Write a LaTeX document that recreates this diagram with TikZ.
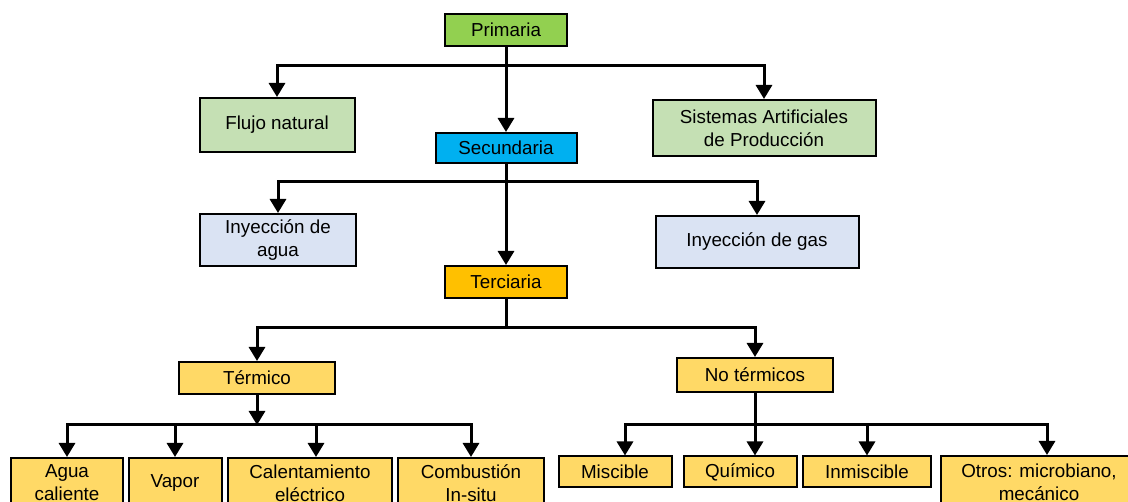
\documentclass[tikz,border=0pt]{standalone}
\usepackage{fontspec}
\setmainfont{Liberation Sans}
\usetikzlibrary{arrows.meta}
\definecolor{verdeA}{HTML}{92D050}
\definecolor{verdeB}{HTML}{C5E0B4}
\definecolor{azulA}{HTML}{00B0F0}
\definecolor{azulB}{HTML}{DAE3F3}
\definecolor{naranja}{HTML}{FFC000}
\definecolor{amarillo}{HTML}{FFD966}
\begin{document}
\begin{tikzpicture}[x=1pt, y=-1pt]
	\tikzset{caja/.style={draw=black, line width=2pt, inner sep=0pt, align=center, font=\fontsize{18.8}{23}\selectfont}, flecha/.style={line width=3pt, -{Triangle[width=16pt, length=14pt]}}, linea/.style={line width=3pt}};

	\useasboundingbox (0,0) rectangle (1128,502);
	\fill[white] (0,0) rectangle (1128,502);
	\clip (0,0) rectangle (1128,502);

	\node[caja, fill=verdeA,   minimum width=122pt, minimum height=32pt] (prim)   at ( 506,   30) {Primaria};
	\node[caja, fill=verdeB,   minimum width=155pt, minimum height=54pt] (flujo)  at ( 277,  125) {Flujo natural};
	\node[caja, fill=verdeB,   minimum width=223pt, minimum height=56pt] (sist)   at ( 764,  128) {Sistemas Artificiales\\de Producción};
	\node[caja, fill=azulA,    minimum width=141pt, minimum height=30pt] (sec)    at ( 506,  148) {Secundaria};
	\node[caja, fill=azulB,    minimum width=156pt, minimum height=52pt] (agua)   at ( 278,  240) {Inyección de\\agua};
	\node[caja, fill=azulB,    minimum width=203pt, minimum height=52pt] (gas)    at ( 757,  242) {Inyección de gas};
	\node[caja, fill=naranja,  minimum width=122pt, minimum height=32pt] (terc)   at ( 506,  282) {Terciaria};
	\node[caja, fill=amarillo, minimum width=156pt, minimum height=32pt] (term)   at ( 257,  378) {Térmico};
	\node[caja, fill=amarillo, minimum width=156pt, minimum height=34pt] (noterm) at ( 755,  375) {No térmicos};

	\node[caja, fill=amarillo, minimum width=112pt, minimum height=50pt] (aguac)  at (  67,  483) {Agua\\caliente};
	\node[caja, fill=amarillo, minimum width= 93pt, minimum height=50pt] (vapor)  at ( 175,  483) {Vapor};
	\node[caja, fill=amarillo, minimum width=164pt, minimum height=50pt] (calen)  at ( 310,  483) {Calentamiento\\eléctrico};
	\node[caja, fill=amarillo, minimum width=146pt, minimum height=50pt] (comb)   at ( 471,  483) {Combustión\\In-situ};

	\node[caja, fill=amarillo, minimum width=113pt, minimum height=31pt] (misc)   at ( 615,  472) {Miscible};
	\node[caja, fill=amarillo, minimum width=113pt, minimum height=31pt] (quim)   at ( 740,  472) {Químico};
	\node[caja, fill=amarillo, minimum width=128pt, minimum height=31pt] (inmis)  at ( 867,  472) {Inmiscible};
	\node[caja, fill=amarillo, minimum width=196pt, minimum height=52pt] (otros)  at (1039,  482) {Otros: microbiano,\\mecánico};

	\coordinate (j1) at (506,  66);
	\coordinate (j2) at (506, 182);
	\coordinate (j3) at (506, 328);
	\coordinate (j4) at (257, 425);
	\coordinate (j5) at (755, 425);

	\draw[flecha] (prim) -- (sec);
	\draw[flecha] (j1) -| (flujo);
	\draw[flecha] (j1) -| (sist);

	\draw[flecha] (sec) -- (terc);
	\draw[flecha] (j2) -| (agua);
	\draw[flecha] (j2) -| (gas);

	\draw[linea]  (terc) -- (j3);
	\draw[flecha] (j3) -| (term);
	\draw[flecha] (j3) -| (noterm);

	\draw[flecha] (term) -- (j4);
	\draw[flecha] (j4) -| (aguac);
	\draw[flecha] (j4) -| (vapor);
	\draw[flecha] (j4) -| ([xshift=6pt]calen.north);
	\draw[flecha] (j4) -| (comb);

	\draw[flecha] (noterm) -- (noterm |- quim.north);
	\draw[flecha] (j5) -| ([xshift=10pt]misc.north);
	\draw[flecha] (j5) -| (inmis);
	\draw[flecha] (j5) -| ([xshift=8pt]otros.north);

\end{tikzpicture}
\end{document}
